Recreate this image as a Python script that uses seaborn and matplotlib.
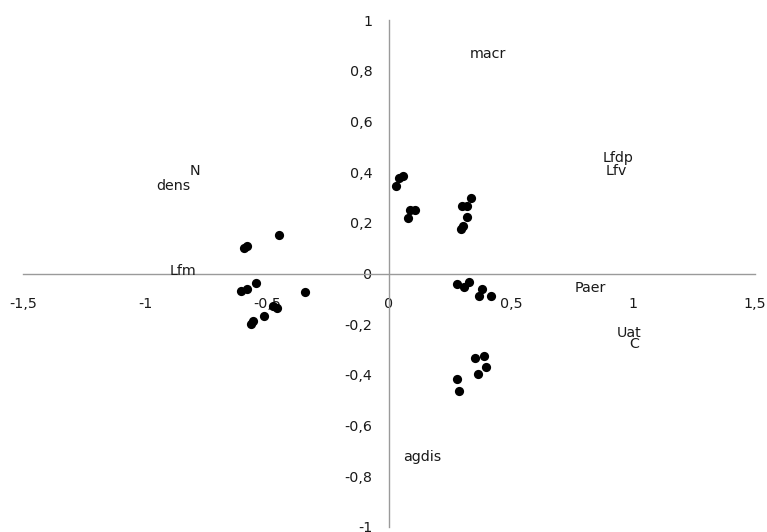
import matplotlib
matplotlib.use("Agg")
import matplotlib.pyplot as plt
import seaborn as sns
import pandas as pd
from matplotlib.ticker import FuncFormatter

# ---- data ----
pts_x = [-0.449, -0.594, -0.581, -0.545, -0.608, -0.583, -0.343, -0.474, -0.458, -0.512, -0.559, -0.564,
         0.056, 0.040, 0.029, 0.108, 0.086, 0.078, 0.337, 0.299, 0.321, 0.318, 0.302, 0.294,
         0.277, 0.328, 0.307, 0.380, 0.367, 0.418,
         0.352, 0.389, 0.398, 0.365, 0.280, 0.286]
pts_y = [0.151, 0.099, 0.107, -0.039, -0.070, -0.063, -0.074, -0.129, -0.135, -0.167, -0.188, -0.201,
         0.384, 0.377, 0.347, 0.252, 0.251, 0.220, 0.297, 0.266, 0.267, 0.221, 0.189, 0.174,
         -0.043, -0.032, -0.055, -0.061, -0.087, -0.087,
         -0.334, -0.326, -0.370, -0.396, -0.418, -0.464]

var_names = ["macr", "N", "dens", "Lfdp", "Lfv", "Lfm", "Paer", "Uat", "C", "agdis"]
var_x = [0.406, -0.795, -0.885, 0.939, 0.930, -0.844, 0.824, 0.985, 1.004, 0.135]
var_y = [0.864, 0.404, 0.347, 0.457, 0.406, 0.009, -0.058, -0.235, -0.277, -0.722]

x_ticks = [-1.5, -1, -0.5, 0, 0.5, 1, 1.5]
y_ticks = [-1, -0.8, -0.6, -0.4, -0.2, 0, 0.2, 0.4, 0.6, 0.8, 1]

sns.set_style("white")
plt.rcParams["font.family"] = ["DejaVu Sans"]

df = pd.DataFrame({"x": pts_x, "y": pts_y})

fig = plt.figure(figsize=(7.67, 5.32), dpi=100)
ax = fig.add_axes([23 / 767, 5 / 532, 732 / 767, 507 / 532])

sns.scatterplot(data=df, x="x", y="y", ax=ax, color="black", s=44,
                edgecolor="black", linewidth=0, zorder=3, clip_on=False)

txt_color = "#1a1a1a"
for n, x, y in zip(var_names, var_x, var_y):
    ax.text(x, y, n, ha="center", va="center", fontsize=10.3, color=txt_color)

ax.set_xlim(-1.5, 1.5)
ax.set_ylim(-1, 1)
ax.set_xticks(x_ticks)
ax.set_yticks(y_ticks)
fmt = FuncFormatter(lambda v, p: ("%g" % round(v, 2)).replace(".", ","))
ax.xaxis.set_major_formatter(fmt)
ax.yaxis.set_major_formatter(fmt)

for s in ["top", "right"]:
    ax.spines[s].set_visible(False)
ax.spines["left"].set_position(("data", 0))
ax.spines["bottom"].set_position(("data", 0))
for s in ["left", "bottom"]:
    ax.spines[s].set_color("#9a9a9a")
    ax.spines[s].set_linewidth(1.0)

ax.tick_params(axis="x", direction="out", length=4, width=1, color="#9a9a9a",
               labelsize=10.3, labelcolor=txt_color, pad=13)
ax.tick_params(axis="y", direction="out", length=4, width=1, color="#9a9a9a",
               labelsize=10.3, labelcolor=txt_color, pad=8)
ax.set_xlabel("")
ax.set_ylabel("")
ax.grid(False)

fig.savefig("out.png", dpi=100)
